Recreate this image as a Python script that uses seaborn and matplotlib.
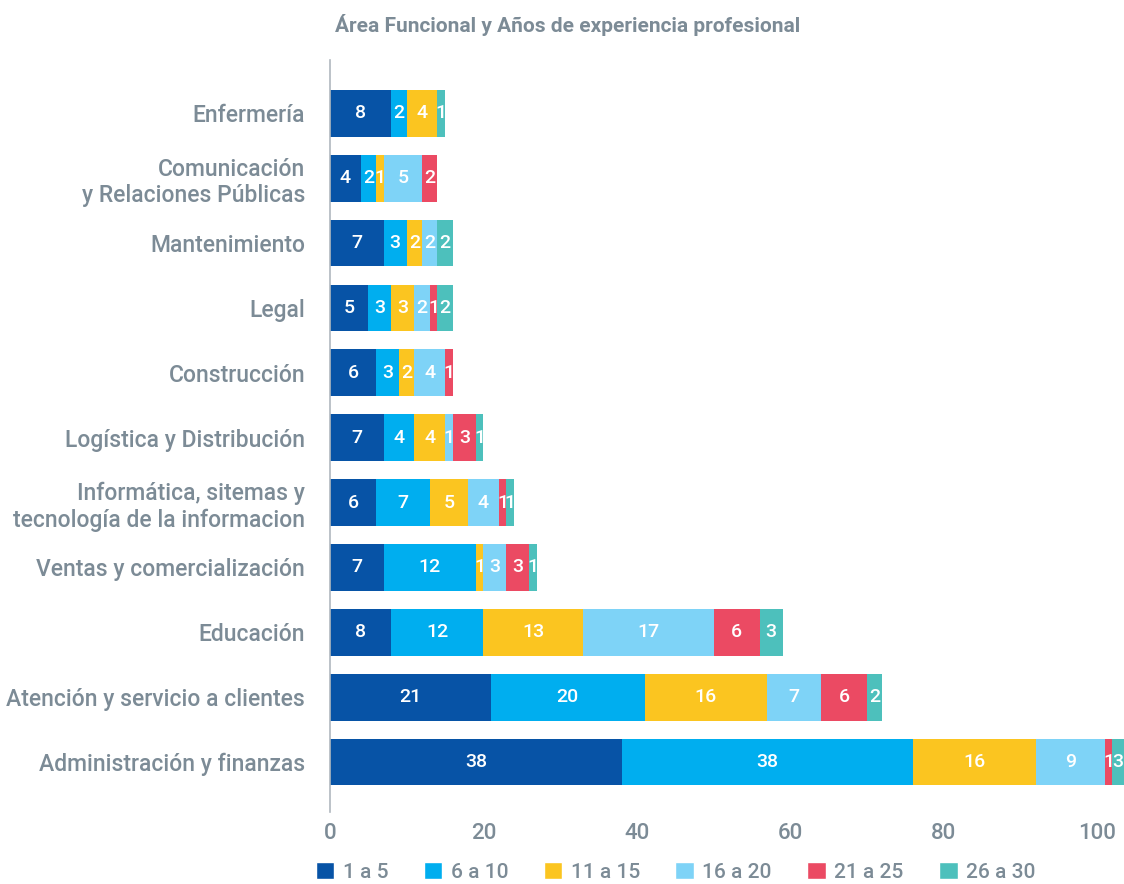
import matplotlib
matplotlib.use("Agg")
import matplotlib.pyplot as plt
import numpy as np
import pandas as pd
import seaborn as sns
from matplotlib.patches import Patch

areas = [
    "Enfermería",
    "Comunicación\ny Relaciones Públicas",
    "Mantenimiento",
    "Legal",
    "Construcción",
    "Logística y Distribución",
    "Informática, sitemas y\ntecnología de la informacion",
    "Ventas y comercialización",
    "Educación",
    "Atención y servicio a clientes",
    "Administración y finanzas",
]
rangos = ["1 a 5", "6 a 10", "11 a 15", "16 a 20", "21 a 25", "26 a 30"]
exp_1_5 = [8, 4, 7, 5, 6, 7, 6, 7, 8, 21, 38]
exp_6_10 = [2, 2, 3, 3, 3, 4, 7, 12, 12, 20, 38]
exp_11_15 = [4, 1, 2, 3, 2, 4, 5, 1, 13, 16, 16]
exp_16_20 = [0, 5, 2, 2, 4, 1, 4, 3, 17, 7, 9]
exp_21_25 = [0, 2, 0, 1, 1, 3, 1, 3, 6, 6, 1]
exp_26_30 = [1, 0, 2, 2, 0, 1, 1, 1, 3, 2, 3]
colores = ["#0753a6", "#00aeef", "#fbc520", "#7ed3f7", "#eb4a63", "#4dc0bc"]

gris = "#7c8b96"
df = pd.DataFrame(
    dict(zip(rangos, [exp_1_5, exp_6_10, exp_11_15, exp_16_20, exp_21_25, exp_26_30])),
    index=areas,
)

sns.set_style("white")
plt.rcParams["font.family"] = ["Roboto", "DejaVu Sans"]

fig = plt.figure(figsize=(11.24, 8.84), dpi=100)
ax = fig.add_axes([0.2936, 0.0814, 0.7064, 0.8506])
xmax = 103.5

left = np.zeros(len(areas))
for rango, color in zip(rangos, colores):
    vals = df[rango].values
    sns.barplot(x=vals, y=areas, orient="h", color=color, left=left,
                width=0.72, saturation=1, ax=ax, linewidth=0)
    for i, v in enumerate(vals):
        if v > 0:
            a, b = left[i], min(left[i] + v, xmax)
            ax.text((a + b) / 2, i, str(v), color="white", ha="center",
                    va="center", fontsize=14, fontweight="medium")
    left = left + vals

ax.set_xlim(0, xmax)
ax.set_ylim(10.77, -0.82)
ax.set_xticks([0, 20, 40, 60, 80, 100])
ax.tick_params(axis="x", colors=gris, labelsize=16, length=0, pad=8)
ax.tick_params(axis="y", colors=gris, labelsize=16.5, length=0, pad=18)
for lab in ax.get_yticklabels() + ax.get_xticklabels():
    lab.set_fontweight("medium")
for lab in ax.get_yticklabels():
    lab.set_multialignment("right")
for s in ["top", "right", "bottom"]:
    ax.spines[s].set_visible(False)
ax.spines["left"].set_color("#b0b8bf")
ax.spines["left"].set_linewidth(1.2)
ax.set_xlabel("")
ax.set_ylabel("")

fig.text(0.505, 0.972, "Área Funcional y Años de experiencia profesional",
         color=gris, fontsize=15, fontweight="bold", ha="center", va="center")

handles = [Patch(facecolor=c, label=r) for c, r in zip(colores, rangos)]
leg = fig.legend(handles=handles, loc="center", bbox_to_anchor=(0.601, 0.0136),
                 ncol=6, frameon=False, fontsize=15, labelcolor=gris,
                 handlelength=0.9, handleheight=0.9, handletextpad=0.4,
                 columnspacing=1.7, borderpad=0)
for t in leg.get_texts():
    t.set_fontweight("medium")

fig.savefig("out.png", dpi=100)
